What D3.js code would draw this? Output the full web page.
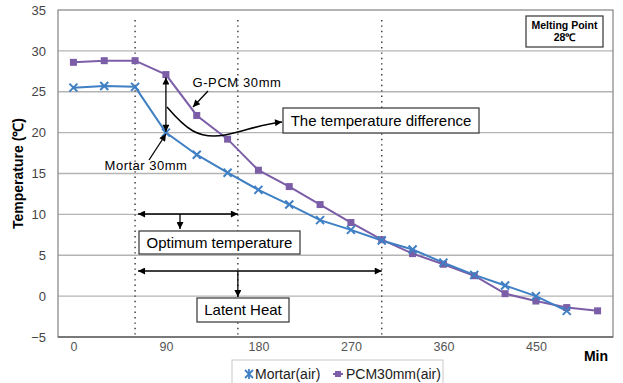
<!DOCTYPE html>
<html>
<head>
<meta charset="utf-8">
<script src="https://cdn.jsdelivr.net/npm/d3@7"></script>
<style>
  body { margin: 0; background: #fff; }
  text { font-family: Arial, "Liberation Sans", sans-serif; }
</style>
</head>
<body>
<script>
// time steps (min) and readings
const minutes = [0, 30, 60, 90, 120, 150, 180, 210, 240, 270, 300, 330, 360, 390, 420, 450, 480, 510];
const mortarAir = [25.5, 25.7, 25.6, 20.0, 17.3, 15.1, 13.0, 11.2, 9.3, 8.1, 6.8, 5.7, 4.1, 2.6, 1.3, 0.0, -1.8];
const pcmAir = [28.6, 28.8, 28.8, 27.1, 22.1, 19.2, 15.4, 13.4, 11.2, 9.0, 6.9, 5.2, 3.9, 2.5, 0.3, -0.6, -1.4, -1.8];
const xTicks = [0, 90, 180, 270, 360, 450];
const yTicks = [-5, 0, 5, 10, 15, 20, 25, 30, 35];
const markerLines = [60, 160, 300]; // dotted guide lines

const W = 623, H = 383;
const pLeft = 58, pRight = 613, pTop = 10, pBottom = 337;
const blue = '#3f7fc4', purple = '#7b5ea7';

const svg = d3.select('body').append('svg')
  .attr('width', W)
  .attr('height', H);

const defs = svg.append('defs');
defs.append('marker')
  .attr('id', 'ah')
  .attr('viewBox', '0 0 10 10')
  .attr('refX', 10).attr('refY', 5)
  .attr('markerWidth', 9).attr('markerHeight', 7)
  .attr('markerUnits', 'userSpaceOnUse')
  .attr('orient', 'auto-start-reverse')
  .append('path').attr('d', 'M0,0L10,5L0,10z').attr('fill', '#000');

// x is a category axis in the original, so points sit in band centres
const x = d3.scaleLinear().domain([-15, 525]).range([pLeft, pRight]);
const y = d3.scaleLinear().domain([-5, 35]).range([pBottom, pTop]);

// gridlines
svg.append('g')
  .selectAll('line')
  .data(yTicks.filter(d => d > -5 && d < 35))
  .enter().append('line')
  .attr('x1', pLeft).attr('x2', pRight)
  .attr('y1', d => y(d)).attr('y2', d => y(d))
  .attr('stroke', '#b4b4b4').attr('stroke-width', 1.3);

// frame
svg.append('rect')
  .attr('x', pLeft).attr('y', pTop)
  .attr('width', pRight - pLeft).attr('height', pBottom - pTop)
  .attr('fill', 'none').attr('stroke', '#8c8c8c').attr('stroke-width', 1.3);
svg.append('line')
  .attr('x1', pLeft).attr('x2', pRight)
  .attr('y1', pBottom).attr('y2', pBottom)
  .attr('stroke', '#666').attr('stroke-width', 1.5);

// y axis labels
const yAxis = svg.append('g')
  .attr('transform', `translate(${pLeft},0)`)
  .call(d3.axisLeft(y).tickValues(yTicks).tickSize(0).tickPadding(12));
yAxis.select('.domain').remove();
yAxis.selectAll('text').attr('font-size', 13).attr('fill', '#444');

// x axis labels
const xAxis = svg.append('g')
  .attr('transform', `translate(0,${pBottom})`)
  .call(d3.axisBottom(x).tickValues(xTicks).tickSize(0).tickPadding(5));
xAxis.select('.domain').remove();
xAxis.selectAll('text').attr('font-size', 12.5).attr('fill', '#555');

svg.append('text')
  .attr('x', 596).attr('y', 361)
  .attr('text-anchor', 'middle')
  .attr('font-size', 14).attr('font-weight', 'bold')
  .text('Min');

svg.append('text')
  .attr('transform', `translate(23,${(pTop + pBottom) / 2}) rotate(-90)`)
  .attr('text-anchor', 'middle')
  .attr('font-size', 14).attr('font-weight', 'bold')
  .text('Temperature (℃)');

// dotted guides
svg.append('g')
  .selectAll('line')
  .data(markerLines)
  .enter().append('line')
  .attr('x1', d => x(d)).attr('x2', d => x(d))
  .attr('y1', pTop + 10).attr('y2', pBottom)
  .attr('stroke', '#333').attr('stroke-width', 1.4)
  .attr('stroke-dasharray', '1.4,4');

// series
const line = d3.line().x(d => x(d[0])).y(d => y(d[1]));
const mortarPts = mortarAir.map((v, i) => [minutes[i], v]);
const pcmPts = pcmAir.map((v, i) => [minutes[i], v]);

svg.append('path').datum(pcmPts)
  .attr('d', line).attr('fill', 'none')
  .attr('stroke', purple).attr('stroke-width', 2);
svg.append('path').datum(mortarPts)
  .attr('d', line).attr('fill', 'none')
  .attr('stroke', blue).attr('stroke-width', 2);

svg.append('g').selectAll('rect')
  .data(pcmPts)
  .enter().append('rect')
  .attr('x', d => x(d[0]) - 3.5).attr('y', d => y(d[1]) - 3.5)
  .attr('width', 7).attr('height', 7)
  .attr('fill', purple);

svg.append('g').selectAll('path')
  .data(mortarPts)
  .enter().append('path')
  .attr('d', d => {
    const cx = x(d[0]), cy = y(d[1]), s = 4;
    return `M${cx - s},${cy - s}L${cx + s},${cy + s}M${cx - s},${cy + s}L${cx + s},${cy - s}`;
  })
  .attr('stroke', blue).attr('stroke-width', 2);

// annotations
const arrow = (x1, y1, x2, y2, both) => {
  const l = svg.append('line')
    .attr('x1', x1).attr('y1', y1).attr('x2', x2).attr('y2', y2)
    .attr('stroke', '#000').attr('stroke-width', 1.3)
    .attr('marker-end', 'url(#ah)');
  if (both) l.attr('marker-start', 'url(#ah)');
};

const box = (x0, y0, w, h, lines, size, bold) => {
  svg.append('rect')
    .attr('x', x0).attr('y', y0).attr('width', w).attr('height', h)
    .attr('fill', '#fff').attr('stroke', '#333').attr('stroke-width', 1.2);
  const t = svg.append('text')
    .attr('text-anchor', 'middle')
    .attr('font-size', size)
    .attr('font-weight', bold ? 'bold' : 'normal');
  lines.forEach((s, i) => {
    t.append('tspan')
      .attr('x', x0 + w / 2)
      .attr('y', y0 + h / 2 + size * 0.36 + (i - (lines.length - 1) / 2) * size * 1.15)
      .text(s);
  });
};

box(526, 16, 77, 31, ['Melting Point', '28℃'], 10.5, true);

svg.append('text').attr('x', 237).attr('y', 87)
  .attr('text-anchor', 'middle').attr('font-size', 13)
  .attr('letter-spacing', 0.6).text('G-PCM 30mm');
arrow(208, 91, 193, 107);

svg.append('text').attr('x', 146).attr('y', 170)
  .attr('text-anchor', 'middle').attr('font-size', 13)
  .attr('letter-spacing', 0.5).text('Mortar 30mm');
arrow(149, 160, 166, 134);

// difference between the two curves at 90 min
arrow(x(90), y(mortarAir[3]) - 1, x(90), y(pcmAir[3]) + 3, true);

svg.append('path')
  .attr('d', 'M167,107 C185,128 198,140 225,135 C245,131 262,124 282,122')
  .attr('fill', 'none').attr('stroke', '#000').attr('stroke-width', 1.5)
  .attr('marker-end', 'url(#ah)');
box(283, 108, 196, 25, ['The temperature difference'], 15);

arrow(x(60) + 3, 214, x(160), 214, true);
arrow(180, 214, 180, 229);
box(139, 231, 161, 23, ['Optimum temperature'], 15);

arrow(x(60) + 3, 271, x(300), 271, true);
arrow(x(160), 271, x(160), 297);
box(197, 298, 92, 24, ['Latent Heat'], 15);

// legend
const lg = svg.append('g');
lg.append('rect')
  .attr('x', 232).attr('y', 360).attr('width', 211).attr('height', 30)
  .attr('fill', '#fff').attr('stroke', '#c8c8c8');
lg.append('path')
  .attr('d', 'M245,370L253,378M245,378L253,370M249,369L249,379')
  .attr('stroke', blue).attr('stroke-width', 1.8);
lg.append('text').attr('x', 255).attr('y', 379)
  .attr('font-size', 14).attr('fill', '#222').text('Mortar(air)');
lg.append('line')
  .attr('x1', 333).attr('x2', 343).attr('y1', 374).attr('y2', 374)
  .attr('stroke', purple).attr('stroke-width', 2);
lg.append('rect')
  .attr('x', 335).attr('y', 371).attr('width', 6).attr('height', 6)
  .attr('fill', purple);
lg.append('text').attr('x', 346).attr('y', 379)
  .attr('font-size', 14).attr('fill', '#222').text('PCM30mm(air)');
</script>
</body>
</html>
